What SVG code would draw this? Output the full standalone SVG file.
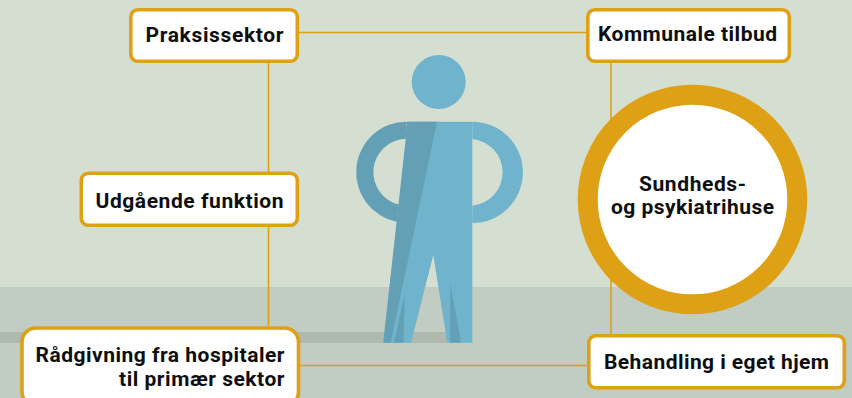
<svg xmlns="http://www.w3.org/2000/svg" width="852" height="398" viewBox="0 0 852 398">
<style>
.box{fill:#fff;stroke:#dea115;stroke-width:3.6}
.t{font-family:"Roboto","Liberation Sans",sans-serif;font-weight:700;font-size:21px;fill:#0c0e0f}
.b{fill:#6fb4cc}
.d{fill:#64a0b5}
#connectors path{fill:none;stroke:#dea115;stroke-width:1.6}
</style>
<rect width="852" height="398" fill="#d4ded1"/>
<rect y="287" width="852" height="111" fill="#c1ccc3"/>
<rect y="332" width="447" height="11" fill="#b0b9ae"/>
<g id="connectors">
<path d="M299 32.500H586"/>
<path d="M268.500 63V326"/>
<path d="M611 63V334"/>
<path d="M300 365.500H587"/>
</g>
<g id="person">
<circle class="b" cx="438.700" cy="82" r="27"/>
<path class="b" d="M472.300 121.700A50.500 50.500 0 0 1 472.300 223V205.700A33.500 33.500 0 0 0 472.300 139Z"/>
<path class="d" d="M406.700 121.700A50.500 50.500 0 0 0 396.700 221.700L398.700 204.600A33.400 33.400 0 0 1 405.700 138.800Z"/>
<path class="b" d="M408.300 121.700H472.300V342.700H447.300L433.300 255L411 342.700H383.300Z"/>
<path class="d" d="M406.700 121.700H437L390.700 342.700H383.300L405.700 139Z"/>
<path class="d" d="M405 293.300L403.300 342.700H394Z"/>
<path class="d" d="M450.300 283.300L461 342.700H450Z"/>
</g>
<g id="praksissektor">
<rect class="box" x="130.800" y="9.800" width="166.500" height="51.500" rx="7"/>
<text class="t" x="145.500" y="41.700" textLength="138">Praksissektor</text>
</g>
<g id="kommunale-tilbud">
<rect class="box" x="587.800" y="9.800" width="201.500" height="51.500" rx="7"/>
<text class="t" x="598" y="41" textLength="179">Kommunale tilbud</text>
</g>
<g id="udgaaende-funktion">
<rect class="box" x="81.300" y="173.300" width="216" height="52" rx="7"/>
<text class="t" x="95.500" y="208" textLength="188">Udgående funktion</text>
</g>
<g id="raadgivning">
<rect class="box" x="22" y="328" width="276.500" height="78" rx="14"/>
<text class="t" x="35.500" y="361.500" textLength="249">Rådgivning fra hospitaler</text>
<text class="t" x="119" y="386" textLength="165.500">til primær sektor</text>
</g>
<g id="behandling">
<rect class="box" x="588.800" y="335.800" width="255.500" height="52" rx="7"/>
<text class="t" x="604" y="369" textLength="225">Behandling i eget hjem</text>
</g>
<g id="sundheds">
<circle cx="692.500" cy="199.500" r="104.800" fill="#fff" stroke="#dea115" stroke-width="20"/>
<text class="t" x="639" y="191" textLength="107">Sundheds-</text>
<text class="t" x="611" y="214" textLength="163">og psykiatrihuse</text>
</g>
</svg>
